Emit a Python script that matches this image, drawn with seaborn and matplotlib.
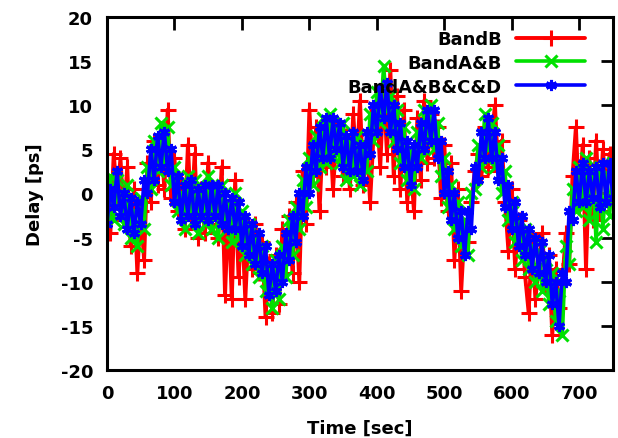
import numpy as np
import pandas as pd
import matplotlib
matplotlib.use("Agg")
import matplotlib.pyplot as plt
import seaborn as sns

# Sample times (every 5 s) and measured delays in ps for each band combination
time_sec = np.arange(0, 751, 5)

band_b = [
    -1.0, -4.5, 4.5, -0.5, 4.0, -3.0, 3.0, -6.0, 0.5, -9.0,
    -2.0, -7.5, 3.5, -1.0, 6.0, 1.0, 6.5, 0.5, 9.5, -0.5,
    4.0, -2.0, 1.5, -4.0, 5.5, -3.0, 4.5, -5.0, 0.5, -4.5,
    3.5, -3.5, -0.5, -5.0, 3.0, -11.5, -1.5, -12.0, 1.5, -9.5,
    -3.0, -12.0, -4.0, -8.5, -3.5, -9.0, -5.5, -14.0, -8.0, -13.5,
    -7.0, -12.5, -4.0, -7.0, -2.5, -9.0, -1.0, -10.0, 2.5, -3.5,
    9.5, 2.0, 7.5, -2.0, 6.5, 3.0, 8.0, 0.5, 6.0, 4.5,
    2.0, 6.5, 0.5, 9.0, 3.0, 10.5, 1.0, 6.0, -1.0, 6.5,
    9.5, 3.0, 12.0, 4.5, 14.0, 2.0, 11.0, 0.5, 9.5, -1.0,
    3.5, -2.0, 8.5, 1.5, 10.5, 3.5, 9.0, 4.0, 7.5, -0.5,
    5.5, -2.0, 3.5, -7.5, 0.5, -11.0, -4.0, -5.5, -1.0, 2.5,
    4.5, 2.0, 7.5, 3.0, 6.0, 10.0, 2.5, 6.0, -1.0, -6.5,
    0.5, -8.5, -3.0, -4.0, -9.5, -13.5, -5.0, -12.0, -8.0, -4.5,
    -10.5, -7.0, -16.0, -8.5, -13.0, -10.0, -4.5, -8.0, 2.0, 7.5,
    -1.5, 5.5, -8.5, 4.0, -3.0, 6.0, -2.0, 5.0, 0.0, 4.5,
    2.0,
]

band_ab = [
    -2.5, 2.0, -3.0, 1.5, -1.0, -3.5, 1.0, -5.0, -2.0, -6.0,
    -0.5, -4.0, 3.0, 0.5, 6.0, 2.5, 8.0, 3.5, 7.5, 1.0,
    3.0, -2.0, 0.0, -4.0, 2.0, -2.0, 1.5, -4.5, 0.0, -3.5,
    2.0, -4.0, 0.5, -5.0, 1.0, -3.0, -1.0, -5.5, 0.0, -5.0,
    -2.0, -7.0, -3.5, -8.0, -5.0, -9.5, -6.0, -11.0, -8.0, -13.0,
    -7.5, -12.0, -6.0, -9.5, -3.0, -7.0, -1.5, -4.0, 1.5, -1.5,
    4.0, 1.0, 6.5, 3.0, 8.5, 3.5, 9.0, 4.0, 7.5, 3.5,
    8.0, 1.5, 6.0, 2.0, 6.5, 1.0, 5.0, 2.5, 9.0, 6.0,
    11.5, 8.0, 14.5, 9.5, 11.0, 6.0, 9.5, 3.5, 7.5, 1.5,
    5.0, 0.5, 7.0, 4.0, 9.5, 6.0, 10.0, 5.0, 8.0, 2.0,
    4.0, -1.5, 1.0, -4.0, -1.0, -6.0, -3.0, -7.0, 0.0, 0.5,
    5.5, 3.0, 9.0, 5.0, 8.0, 3.0, 5.5, 0.0, 2.5, -3.0,
    -1.0, -5.5, -3.0, -7.5, -4.0, -8.5, -6.0, -10.0, -6.5, -11.0,
    -7.5, -12.5, -9.0, -14.5, -11.0, -16.0, -6.0, -8.0, 0.5, -2.0,
    3.0, -1.5, 4.0, -3.0, 2.5, -5.5, 3.0, -4.0, 2.0, -2.5,
    3.5,
]

band_abcd = [
    -3.5, 0.5, -1.5, 2.5, -2.5, 0.0, -4.0, -0.5, -4.5, -1.0,
    -3.5, 1.5, 0.0, 5.0, 1.5, 6.5, 3.0, 7.0, 2.5, 5.0,
    -1.0, 2.0, -3.0, 1.0, -2.5, 1.5, -3.5, 0.5, -2.5, 1.0,
    -3.0, 1.0, -2.5, 1.0, -3.5, 0.0, -4.0, -0.5, -4.0, -1.0,
    -6.0, -2.5, -7.0, -3.5, -8.0, -4.5, -9.0, -6.0, -11.5, -8.0,
    -11.0, -7.0, -10.0, -4.5, -7.5, -2.5, -5.5, 0.0, -2.5, 3.0,
    0.0, 5.5, 2.5, 7.5, 4.0, 8.5, 4.0, 8.5, 5.0, 8.0,
    3.0, 6.5, 2.5, 7.0, 2.5, 5.5, 1.5, 7.0, 4.5, 10.0,
    7.0, 12.0, 8.5, 12.5, 7.0, 10.0, 5.0, 8.0, 3.0, 6.0,
    1.0, 5.5, 3.0, 8.0, 5.0, 9.5, 6.0, 9.5, 4.0, 6.0,
    0.0, 2.5, -3.0, 0.0, -5.0, -2.0, -7.0, -2.0, -4.0, 3.0,
    1.5, 7.0, 4.0, 8.5, 4.0, 7.0, 1.5, 4.0, -1.5, 1.0,
    -4.0, -1.0, -6.0, -2.5, -7.0, -4.0, -8.5, -5.0, -9.0, -5.5,
    -10.0, -7.0, -12.5, -10.0, -15.0, -9.0, -10.0, -2.0, -3.0, 2.5,
    -1.0, 3.5, -1.0, 2.5, -0.5, 3.0, -1.5, 3.5, -1.0, 3.5,
    -0.5,
]

series_names = ["BandB", "BandA&B", "BandA&B&C&D"]
series_values = [band_b, band_ab, band_abcd]
series_colors = ["#ff0000", "#00e000", "#0000ff"]
series_markers = ["+", "x", (6, 2, 0)]
series_msize = [11, 8, 8]
series_lw = [2.8, 2.6, 2.6]

x_ticks = [0, 100, 200, 300, 400, 500, 600, 700]
y_ticks = [-20, -15, -10, -5, 0, 5, 10, 15, 20]

sns.set_style("white")
plt.rcParams["font.family"] = ["DejaVu Sans"]
plt.rcParams["font.weight"] = "bold"
plt.rcParams["axes.unicode_minus"] = False
plt.rcParams["text.color"] = "black"
plt.rcParams["axes.labelcolor"] = "black"
plt.rcParams["xtick.color"] = "black"
plt.rcParams["ytick.color"] = "black"

fig = plt.figure(figsize=(6.18, 4.39), dpi=100)
ax = fig.add_axes([0.1731, 0.1549, 0.8188, 0.8041])

for name, vals, col, mk, ms, lw in zip(series_names, series_values,
                                       series_colors, series_markers,
                                       series_msize, series_lw):
    df = pd.DataFrame({"time": time_sec, "delay": vals})
    sns.lineplot(data=df, x="time", y="delay", ax=ax, color=col,
                 estimator=None, sort=False, label=name, linewidth=lw,
                 marker=mk, markersize=ms, markeredgewidth=2.2,
                 markeredgecolor=col)

ax.set_xlim(0, 750)
ax.set_ylim(-20, 20)
ax.set_xticks(x_ticks)
ax.set_yticks(y_ticks)
ax.tick_params(direction="in", length=9, width=2, top=True, right=True,
               labelsize=13, pad=10, colors="black")
for lab in ax.get_xticklabels() + ax.get_yticklabels():
    lab.set_fontweight("bold")
for sp in ax.spines.values():
    sp.set_linewidth(2.2)
    sp.set_color("black")

ax.set_xlabel("Time [sec]", fontsize=13, fontweight="bold", labelpad=12,
              color="black")
ax.set_ylabel("Delay [ps]", fontsize=13, fontweight="bold", labelpad=12,
              color="black")

leg = ax.legend(loc="upper right", bbox_to_anchor=(585 / 618, 1 - 31 / 439),
                bbox_transform=fig.transFigure, frameon=False,
                markerfirst=False, numpoints=1, handlelength=3.8,
                handletextpad=0.8, labelspacing=0.32, borderpad=0,
                borderaxespad=0,
                prop={"size": 13, "weight": "bold"})
for t in leg.get_texts():
    t.set_color("black")

fig.savefig("out.png", dpi=100)
